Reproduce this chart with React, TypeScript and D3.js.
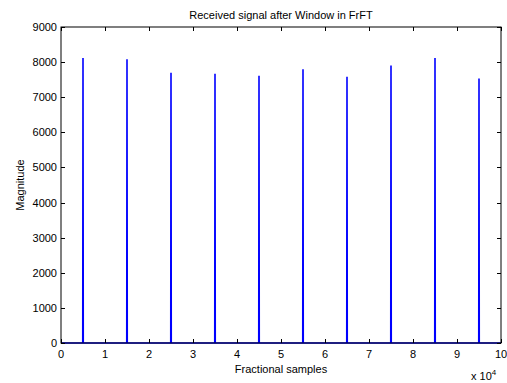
import React, { useRef, useEffect } from "react";
import * as d3 from "d3";

const peakPositions = [5000, 15000, 25000, 35000, 45000, 55000, 65000, 75000, 85000, 95000];
const peakValues = [8120, 8085, 7695, 7665, 7610, 7800, 7580, 7905, 8115, 7530];
const xTicks = [0, 1, 2, 3, 4, 5, 6, 7, 8, 9, 10];
const yTicks = [0, 1000, 2000, 3000, 4000, 5000, 6000, 7000, 8000, 9000];

const W = 507;
const H = 383;
const margin = { left: 61, right: 6, top: 27, bottom: 40 };

function App() {
  const svgRef = useRef<SVGSVGElement>(null);

  useEffect(() => {
    const svg = d3.select(svgRef.current);
    svg.selectAll("*").remove();

    const x = d3.scaleLinear().domain([0, 100000]).range([margin.left, W - margin.right]);
    const y = d3.scaleLinear().domain([0, 9000]).range([H - margin.bottom, margin.top]);

    const font = "'Liberation Sans', Arial, sans-serif";

    // build signal: flat zero with narrow spikes
    const pts: [number, number][] = [[0, 0]];
    peakPositions.forEach((p, i) => {
      pts.push([p - 60, 0]);
      pts.push([p, peakValues[i]]);
      pts.push([p + 60, 0]);
    });
    pts.push([100000, 0]);

    const line = d3.line<[number, number]>().x(d => x(d[0])).y(d => y(d[1]));

    svg.append("path")
      .datum(pts)
      .attr("d", line)
      .attr("fill", "none")
      .attr("stroke", "#0000ff")
      .attr("stroke-width", 1.6);

    // box
    svg.append("rect")
      .attr("x", x(0)).attr("y", y(9000))
      .attr("width", x(100000) - x(0)).attr("height", y(0) - y(9000))
      .attr("fill", "none").attr("stroke", "#000").attr("stroke-width", 1);

    const tl = 4;
    const g = svg.append("g").attr("stroke", "#000").attr("stroke-width", 1);
    xTicks.forEach(t => {
      const xx = Math.round(x(t * 10000)) + 0.5;
      g.append("line").attr("x1", xx).attr("x2", xx).attr("y1", y(0)).attr("y2", y(0) - tl);
      g.append("line").attr("x1", xx).attr("x2", xx).attr("y1", y(9000)).attr("y2", y(9000) + tl);
    });
    yTicks.forEach(t => {
      const yy = Math.round(y(t)) + 0.5;
      g.append("line").attr("x1", x(0)).attr("x2", x(0) + tl).attr("y1", yy).attr("y2", yy);
      g.append("line").attr("x1", x(100000)).attr("x2", x(100000) - tl).attr("y1", yy).attr("y2", yy);
    });

    svg.selectAll(".xt")
      .data(xTicks)
      .join("text")
      .attr("x", d => x(d * 10000))
      .attr("y", y(0) + 15)
      .attr("text-anchor", "middle")
      .attr("font-family", font)
      .attr("font-size", 11)
      .text(d => String(d));

    svg.selectAll(".yt")
      .data(yTicks)
      .join("text")
      .attr("x", x(0) - 4)
      .attr("y", d => y(d) + 4)
      .attr("text-anchor", "end")
      .attr("font-family", font)
      .attr("font-size", 11)
      .text(d => String(d));

    svg.append("text")
      .attr("x", (x(0) + x(100000)) / 2)
      .attr("y", 19)
      .attr("text-anchor", "middle")
      .attr("font-family", font)
      .attr("font-size", 11)
      .text("Received signal after Window in FrFT");

    svg.append("text")
      .attr("x", (x(0) + x(100000)) / 2)
      .attr("y", 373)
      .attr("text-anchor", "middle")
      .attr("font-family", font)
      .attr("font-size", 11)
      .text("Fractional samples");

    svg.append("text")
      .attr("transform", `translate(24, ${(y(0) + y(9000)) / 2}) rotate(-90)`)
      .attr("text-anchor", "middle")
      .attr("font-family", font)
      .attr("font-size", 11)
      .text("Magnitude");

    const ex = svg.append("text")
      .attr("x", 471)
      .attr("y", 380)
      .attr("font-family", font)
      .attr("font-size", 11);
    ex.append("tspan").text("x 10");
    ex.append("tspan").attr("dy", -5).attr("font-size", 8).text("4");
  }, []);

  return (
    <div style={{ position: "absolute", left: 0, top: 0 }}>
      <svg ref={svgRef} width={W} height={H} style={{ display: "block", background: "#fff" }}></svg>
    </div>
  );
}

export default App;
